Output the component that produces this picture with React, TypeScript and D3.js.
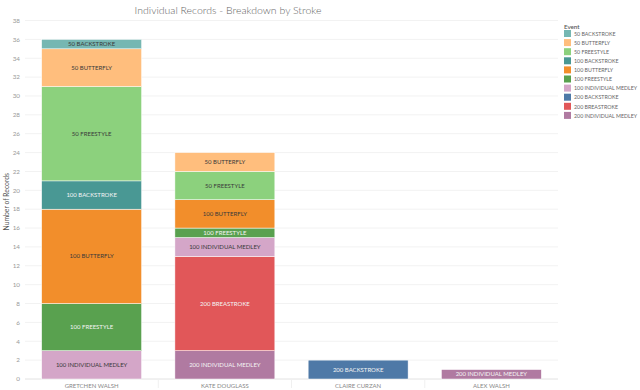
import { useEffect, useRef } from 'react';
import * as d3 from 'd3';

const swimmers = ['GRETCHEN WALSH', 'KATE DOUGLASS', 'CLAIRE CURZAN', 'ALEX WALSH'];

const events = [
  '50 BACKSTROKE',
  '50 BUTTERFLY',
  '50 FREESTYLE',
  '100 BACKSTROKE',
  '100 BUTTERFLY',
  '100 FREESTYLE',
  '100 INDIVIDUAL MEDLEY',
  '200 BACKSTROKE',
  '200 BREASTROKE',
  '200 INDIVIDUAL MEDLEY',
];

const eventColors = [
  '#76b7b2', '#ffbe7d', '#8cd17d', '#499894', '#f28e2b',
  '#59a14f', '#d4a6c8', '#4e79a7', '#e15759', '#b07aa1',
];

// darker segments get light labels
const lightText = ['100 BACKSTROKE', '100 FREESTYLE', '200 BACKSTROKE', '200 BREASTROKE', '200 INDIVIDUAL MEDLEY'];

// records per swimmer, in the order of `events`
const gretchenWalsh = [1, 4, 10, 3, 10, 5, 3, 0, 0, 0];
const kateDouglass = [0, 2, 3, 0, 3, 1, 2, 0, 10, 3];
const claireCurzan = [0, 0, 0, 0, 0, 0, 0, 2, 0, 0];
const alexWalsh = [0, 0, 0, 0, 0, 0, 0, 0, 0, 1];

const yTicks = d3.range(0, 39, 2);

export default function App() {
  const svgRef = useRef<SVGSVGElement>(null);
  const width = 640;
  const height = 390;

  useEffect(() => {
    if (!svgRef.current) return;
    const svg = d3.select(svgRef.current);
    svg.selectAll('*').remove();

    const font = 'Lato, "Open Sans", sans-serif';
    const margin = { top: 20.5, right: 82, bottom: 11, left: 25 };
    const innerWidth = width - margin.left - margin.right;
    const innerHeight = height - margin.top - margin.bottom;

    const rows = [gretchenWalsh, kateDouglass, claireCurzan, alexWalsh].map((vals, i) => {
      const r: Record<string, any> = { swimmer: swimmers[i] };
      events.forEach((e, j) => { r[e] = vals[j]; });
      return r;
    });

    // stack from bottom: reverse legend order
    const stackKeys = [...events].reverse();
    const series = d3.stack<any>().keys(stackKeys)(rows);

    const x = d3.scaleBand().domain(swimmers).range([0, innerWidth]).paddingInner(0.25).paddingOuter(0.125);
    const y = d3.scaleLinear().domain([0, 38]).range([innerHeight, 0]);
    const color = d3.scaleOrdinal<string>().domain(events).range(eventColors);

    const g = svg.append('g').attr('transform', `translate(${margin.left},${margin.top})`);

    // gridlines
    g.append('g')
      .selectAll('line')
      .data(yTicks)
      .enter()
      .append('line')
      .attr('x1', 0)
      .attr('x2', innerWidth)
      .attr('y1', d => y(d))
      .attr('y2', d => y(d))
      .attr('stroke', d => (d === 0 ? '#e2e2e2' : '#f2f2f2'))
      .attr('stroke-width', 1);

    // column dividers at the bottom
    const step = x.step();
    g.append('g')
      .selectAll('line')
      .data(swimmers.slice(1))
      .enter()
      .append('line')
      .attr('x1', d => x(d)! - (step - x.bandwidth()) / 2)
      .attr('x2', d => x(d)! - (step - x.bandwidth()) / 2)
      .attr('y1', innerHeight)
      .attr('y2', innerHeight + 9)
      .attr('stroke', '#f0f0f0');

    // y axis labels
    g.append('g')
      .selectAll('text')
      .data(yTicks)
      .enter()
      .append('text')
      .attr('x', -5)
      .attr('y', d => y(d) + 2.3)
      .attr('text-anchor', 'end')
      .text(d => d)
      .style('font-family', font)
      .style('font-size', '6.3px')
      .style('fill', '#999');

    svg.append('text')
      .attr('transform', `translate(8.5,${margin.top + innerHeight / 2 + 2}) rotate(-90)`)
      .attr('text-anchor', 'middle')
      .text('Number of Records')
      .style('font-family', font)
      .style('font-size', '6.8px')
      .style('fill', '#555');

    // bars
    const layers = g.selectAll('.layer')
      .data(series)
      .enter()
      .append('g')
      .attr('class', 'layer')
      .attr('fill', d => color(d.key));

    layers.selectAll('rect')
      .data(d => d.filter(s => s[1] - s[0] > 0))
      .enter()
      .append('rect')
      .attr('x', d => x(d.data.swimmer)!)
      .attr('y', d => y(d[1]))
      .attr('width', x.bandwidth())
      .attr('height', d => y(d[0]) - y(d[1]))
      .attr('stroke', '#fff')
      .attr('stroke-width', 0.5);

    // segment labels
    series.forEach(s => {
      s.filter(d => d[1] - d[0] > 0).forEach(d => {
        g.append('text')
          .attr('x', x(d.data.swimmer)! + x.bandwidth() / 2)
          .attr('y', (y(d[0]) + y(d[1])) / 2 + 2.1)
          .attr('text-anchor', 'middle')
          .text(s.key)
          .style('font-family', font)
          .style('font-size', '6px')
          .style('fill', lightText.includes(s.key) ? '#f4f4f4' : '#3a3a3a');
      });
    });

    // x labels
    g.append('g')
      .selectAll('text')
      .data(swimmers)
      .enter()
      .append('text')
      .attr('x', d => x(d)! + x.bandwidth() / 2)
      .attr('y', innerHeight + 8.5)
      .attr('text-anchor', 'middle')
      .text(d => d)
      .style('font-family', font)
      .style('font-size', '6px')
      .style('fill', '#888');

    // title
    svg.append('text')
      .attr('x', 228)
      .attr('y', 14)
      .attr('text-anchor', 'middle')
      .text('Individual Records - Breakdown by Stroke')
      .style('font-family', font)
      .style('font-size', '10.5px')
      .style('font-weight', '300')
      .style('fill', '#666');

    // legend
    const legend = svg.append('g').attr('transform', 'translate(564,23)');
    legend.append('text')
      .attr('x', 0)
      .attr('y', 6)
      .text('Event')
      .style('font-family', font)
      .style('font-size', '6.2px')
      .style('font-weight', '600')
      .style('fill', '#555');

    const items = legend.selectAll('.item')
      .data(events)
      .enter()
      .append('g')
      .attr('class', 'item')
      .attr('transform', (_, i) => `translate(0,${7 + i * 9.1})`);

    items.append('rect')
      .attr('width', 7)
      .attr('height', 7)
      .attr('fill', d => color(d));

    items.append('text')
      .attr('x', 10)
      .attr('y', 5.8)
      .text(d => d)
      .style('font-family', font)
      .style('font-size', '5.3px')
      .style('fill', '#666');
  }, []);

  return (
    <svg
      ref={svgRef}
      width={width}
      height={height}
      style={{ position: 'absolute', left: 0, top: 0, background: '#fff' }}
    />
  );
}
